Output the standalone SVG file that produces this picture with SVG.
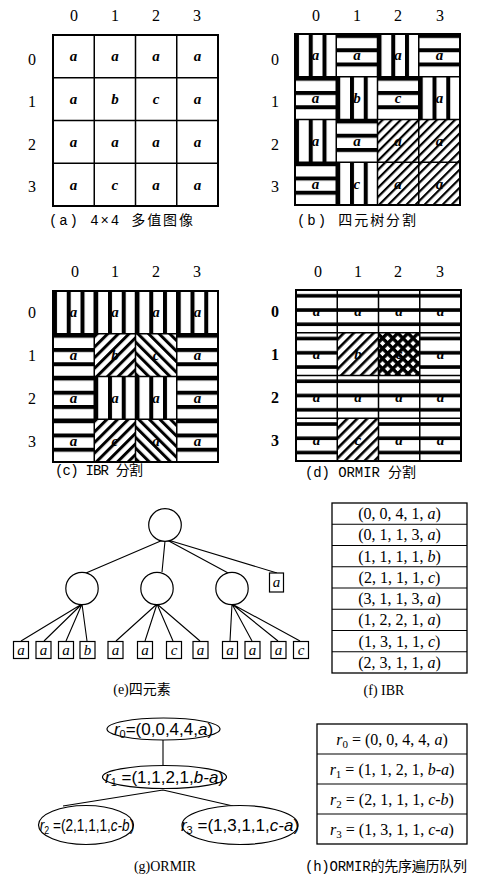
<svg xmlns="http://www.w3.org/2000/svg" width="486" height="875" viewBox="0 0 486 875">
<style>
.lbl{font-family:"Liberation Serif",serif;font-size:16px;fill:#000;text-anchor:middle}
.lblb{font-family:"Liberation Serif",serif;font-size:16px;font-weight:bold;fill:#000;text-anchor:middle}
.let{font-family:"Liberation Serif",serif;font-size:15px;font-style:italic;font-weight:bold;fill:#000;text-anchor:middle}
.cap{font-family:"Liberation Mono","Noto Sans CJK SC",monospace;font-size:14px;fill:#000}
.capS{font-family:"Liberation Serif","Noto Sans CJK SC",serif;font-size:14px;fill:#000;text-anchor:middle}
.grid{fill:none;stroke:#000;stroke-width:1.5}
.frame{fill:none;stroke:#000;stroke-width:2}
.node{fill:#fff;stroke:#000;stroke-width:1.2}
.edge{fill:none;stroke:#000;stroke-width:1.1}
.leaf{font-family:"Liberation Serif",serif;font-size:15px;font-style:italic;fill:#000;text-anchor:middle}
.tbl{font-family:"Liberation Serif",serif;font-size:16px;fill:#000;text-anchor:middle}
.ell{font-family:"Liberation Sans",sans-serif;font-size:17px;fill:#000;text-anchor:middle}
.it{font-style:italic}
</style>
<defs>
<pattern id="vs" patternUnits="userSpaceOnUse" width="13.75" height="10"><rect width="13.75" height="10" fill="#fff"/><rect width="4" height="10" fill="#000"/></pattern>
<pattern id="hs" patternUnits="userSpaceOnUse" width="10" height="14.25"><rect width="10" height="14.25" fill="#fff"/><rect width="10" height="4" fill="#000"/></pattern>
<pattern id="hs2" patternUnits="userSpaceOnUse" width="10" height="14.25"><rect width="10" height="14.25" fill="#fff"/><rect y="4" width="10" height="3.6" fill="#000"/></pattern>
<pattern id="db" patternUnits="userSpaceOnUse" width="6.4" height="6.4" patternTransform="rotate(45)"><rect width="6.4" height="6.4" fill="#fff"/><rect width="2.2" height="6.4" fill="#000"/></pattern>
<pattern id="dcL" patternUnits="userSpaceOnUse" width="7.5" height="7.5" patternTransform="rotate(45)"><rect width="7.5" height="7.5" fill="#fff"/><rect width="3" height="7.5" fill="#000"/></pattern>
<pattern id="dcR" patternUnits="userSpaceOnUse" width="7.5" height="7.5" patternTransform="translate(82.5 0) rotate(-45)"><rect width="7.5" height="7.5" fill="#fff"/><rect width="3" height="7.5" fill="#000"/></pattern>
<pattern id="dd" patternUnits="userSpaceOnUse" width="7" height="7" patternTransform="rotate(45)"><rect width="7" height="7" fill="#fff"/><rect width="2.6" height="7" fill="#000"/></pattern>
<pattern id="xh" patternUnits="userSpaceOnUse" width="7.2" height="7.2" patternTransform="rotate(45)"><rect width="7.2" height="7.2" fill="#fff"/><rect width="3.4" height="7.2" fill="#000"/><rect width="7.2" height="3.4" fill="#000"/></pattern>
</defs>

<!-- (a) -->
<g id="panel-a">
<text class="lbl" x="74" y="21">0</text><text class="lbl" x="115" y="21">1</text><text class="lbl" x="156" y="21">2</text><text class="lbl" x="197" y="21">3</text>
<text class="lbl" x="32" y="65">0</text><text class="lbl" x="32" y="107">1</text><text class="lbl" x="32" y="150">2</text><text class="lbl" x="32" y="192">3</text>
<g transform="translate(53,35)">
<rect width="165" height="171" fill="#fff"/>
<path class="grid" d="M41.25,0V171M82.5,0V171M123.75,0V171M0,42.75H165M0,85.5H165M0,128.25H165"/>
<rect class="frame" width="165" height="171"/>
<g class="let">
<text x="20.6" y="26.4">a</text><text x="61.9" y="26.4">a</text><text x="103.1" y="26.4">a</text><text x="144.4" y="26.4">a</text>
<text x="20.6" y="69.1">a</text><text x="61.9" y="69.1">b</text><text x="103.1" y="69.1">c</text><text x="144.4" y="69.1">a</text>
<text x="20.6" y="111.9">a</text><text x="61.9" y="111.9">a</text><text x="103.1" y="111.9">a</text><text x="144.4" y="111.9">a</text>
<text x="20.6" y="154.6">a</text><text x="61.9" y="154.6">c</text><text x="103.1" y="154.6">a</text><text x="144.4" y="154.6">a</text>
</g>
</g>
<text class="cap" x="49" y="225" textLength="144">(a) 4×4 多值图像</text>
</g>

<!-- (b) -->
<g id="panel-b">
<text class="lbl" x="316" y="21">0</text><text class="lbl" x="357" y="21">1</text><text class="lbl" x="398" y="21">2</text><text class="lbl" x="440" y="21">3</text>
<text class="lbl" x="275" y="65">0</text><text class="lbl" x="275" y="107">1</text><text class="lbl" x="275" y="150">2</text><text class="lbl" x="275" y="192">3</text>
<g transform="translate(295,34)">
<rect x="0" y="0" width="41.25" height="42.75" fill="url(#vs)"/>
<rect x="41.25" y="0" width="41.25" height="42.75" fill="url(#hs)"/>
<rect x="82.5" y="0" width="41.25" height="42.75" fill="url(#vs)"/>
<rect x="123.75" y="0" width="41.25" height="42.75" fill="url(#hs)"/>
<rect x="0" y="42.75" width="41.25" height="42.75" fill="url(#hs)"/>
<rect x="41.25" y="42.75" width="41.25" height="42.75" fill="url(#vs)"/>
<rect x="82.5" y="42.75" width="41.25" height="42.75" fill="url(#hs)"/>
<rect x="123.75" y="42.75" width="41.25" height="42.75" fill="url(#vs)"/>
<rect x="0" y="85.5" width="41.25" height="42.75" fill="url(#vs)"/>
<rect x="41.25" y="85.5" width="41.25" height="42.75" fill="url(#hs)"/>
<rect x="0" y="128.25" width="41.25" height="42.75" fill="url(#hs)"/>
<rect x="41.25" y="128.25" width="41.25" height="42.75" fill="url(#vs)"/>
<rect x="82.5" y="85.5" width="82.5" height="85.5" fill="url(#db)"/>
<path class="grid" d="M41.25,0V171M82.5,0V171M123.75,0V171M0,42.75H165M0,85.5H165M0,128.25H165"/>
<rect class="frame" width="165" height="171"/>
<g class="let">
<text x="20.6" y="26.4">a</text><text x="61.9" y="26.4">a</text><text x="103.1" y="26.4">a</text><text x="144.4" y="26.4">a</text>
<text x="20.6" y="69.1">a</text><text x="61.9" y="69.1">b</text><text x="103.1" y="69.1">c</text><text x="144.4" y="69.1">a</text>
<text x="20.6" y="111.9">a</text><text x="61.9" y="111.9">a</text><text x="103.1" y="111.9">a</text><text x="144.4" y="111.9">a</text>
<text x="20.6" y="154.6">a</text><text x="61.9" y="154.6">c</text><text x="103.1" y="154.6">a</text><text x="144.4" y="154.6">a</text>
</g>
</g>
<text class="cap" x="297" y="225" textLength="119">(b) 四元树分割</text>
</g>

<!-- (c) -->
<g id="panel-c">
<text class="lbl" x="75" y="277">0</text><text class="lbl" x="115" y="277">1</text><text class="lbl" x="156" y="277">2</text><text class="lbl" x="197" y="277">3</text>
<text class="lbl" x="32" y="318">0</text><text class="lbl" x="32" y="361">1</text><text class="lbl" x="32" y="404">2</text><text class="lbl" x="32" y="447">3</text>
<g transform="translate(53,291)">
<rect x="0" y="0" width="165" height="42.75" fill="url(#vs)"/>
<rect x="0" y="42.75" width="41.25" height="128.25" fill="url(#hs)"/>
<rect x="123.75" y="42.75" width="41.25" height="128.25" fill="url(#hs)"/>
<rect x="41.25" y="42.75" width="41.25" height="42.75" fill="url(#dcL)"/>
<rect x="82.5" y="42.75" width="41.25" height="42.75" fill="url(#dcR)"/>
<rect x="41.25" y="85.5" width="82.5" height="42.75" fill="url(#vs)"/>
<rect x="41.25" y="128.25" width="41.25" height="42.75" fill="url(#dcL)"/>
<rect x="82.5" y="128.25" width="41.25" height="42.75" fill="url(#dcR)"/>
<path class="grid" d="M41.25,0V171M82.5,0V171M123.75,0V171M0,42.75H165M0,85.5H165M0,128.25H165"/>
<rect class="frame" width="165" height="171"/>
<g class="let">
<text x="20.6" y="26.4">a</text><text x="61.9" y="26.4">a</text><text x="103.1" y="26.4">a</text><text x="144.4" y="26.4">a</text>
<text x="20.6" y="69.1">a</text><text x="61.9" y="69.1">b</text><text x="103.1" y="69.1">c</text><text x="144.4" y="69.1">a</text>
<text x="20.6" y="111.9">a</text><text x="61.9" y="111.9">a</text><text x="103.1" y="111.9">a</text><text x="144.4" y="111.9">a</text>
<text x="20.6" y="154.6">a</text><text x="61.9" y="154.6">c</text><text x="103.1" y="154.6">a</text><text x="144.4" y="154.6">a</text>
</g>
</g>
<text class="cap" x="55" y="475" textLength="88">(c) IBR 分割</text>
</g>

<!-- (d) -->
<g id="panel-d">
<text class="lbl" x="318" y="277">0</text><text class="lbl" x="358" y="277">1</text><text class="lbl" x="398" y="277">2</text><text class="lbl" x="440" y="277">3</text>
<text class="lblb" x="275" y="317">0</text><text class="lblb" x="275" y="360">1</text><text class="lblb" x="275" y="403">2</text><text class="lblb" x="275" y="446">3</text>
<g transform="translate(296,290)">
<rect x="0" y="0" width="165" height="171" fill="url(#hs2)"/>
<rect x="41.25" y="42.75" width="41.25" height="42.75" fill="url(#dd)"/>
<rect x="82.5" y="42.75" width="41.25" height="42.75" fill="url(#xh)"/>
<rect x="41.25" y="128.25" width="41.25" height="42.75" fill="url(#dd)"/>
<path class="grid" d="M41.25,0V171M82.5,0V171M123.75,0V171M0,42.75H165M0,85.5H165M0,128.25H165"/>
<rect class="frame" width="165" height="171"/>
<g class="let">
<text x="20.6" y="26.4">a</text><text x="61.9" y="26.4">a</text><text x="103.1" y="26.4">a</text><text x="144.4" y="26.4">a</text>
<text x="20.6" y="69.1">a</text><text x="61.9" y="69.1">b</text><text x="103.1" y="69.1">c</text><text x="144.4" y="69.1">a</text>
<text x="20.6" y="111.9">a</text><text x="61.9" y="111.9">a</text><text x="103.1" y="111.9">a</text><text x="144.4" y="111.9">a</text>
<text x="20.6" y="154.6">a</text><text x="61.9" y="154.6">c</text><text x="103.1" y="154.6">a</text><text x="144.4" y="154.6">a</text>
</g>
</g>
<text class="cap" x="305" y="477" textLength="111">(d) ORMIR 分割</text>
</g>

<!-- (e) quadtree -->
<g id="panel-e">
<g id="tree-edges">
<path class="edge" d="M163,540L86,573M165,541L162,572M167,540L230,574M168,540L277,573"/>
<path class="edge" d="M82,604L21,641M82,604L44,641M82,604L66,641M82,604L87,641"/>
<path class="edge" d="M157,604L116,641M157,604L145,641M157,604L173,641M157,604L200,641"/>
<path class="edge" d="M232,604L230,641M232,604L252,641M232,604L278,641M232,604L300,641"/>
</g>
<g id="e-root"><circle class="node" cx="165" cy="525" r="16.3"/></g>
<g id="e-n1"><circle class="node" cx="82" cy="588.5" r="16.2"/></g>
<g id="e-n2"><circle class="node" cx="157" cy="588.5" r="16.2"/></g>
<g id="e-n3"><circle class="node" cx="232" cy="588.5" r="16.2"/></g>
<g id="e-la"><rect class="node" x="269.5" y="573" width="14" height="19"/><text class="leaf" x="276.5" y="587">a</text></g>
<g id="e-leaves">
<rect class="node" x="13.5" y="641.5" width="15" height="17"/><text class="leaf" x="21" y="655">a</text>
<rect class="node" x="36" y="641.5" width="15" height="17"/><text class="leaf" x="43.5" y="655">a</text>
<rect class="node" x="58.5" y="641.5" width="15" height="17"/><text class="leaf" x="66" y="655">a</text>
<rect class="node" x="80" y="641.5" width="15" height="17"/><text class="leaf" x="87.5" y="655">b</text>
<rect class="node" x="108" y="641.5" width="15" height="17"/><text class="leaf" x="115.5" y="655">a</text>
<rect class="node" x="137.5" y="641.5" width="15" height="17"/><text class="leaf" x="145" y="655">a</text>
<rect class="node" x="166.5" y="641.5" width="15" height="17"/><text class="leaf" x="174" y="655">c</text>
<rect class="node" x="193" y="641.5" width="15" height="17"/><text class="leaf" x="200.5" y="655">a</text>
<rect class="node" x="222.5" y="641.5" width="15" height="17"/><text class="leaf" x="230" y="655">a</text>
<rect class="node" x="245" y="641.5" width="15" height="17"/><text class="leaf" x="252.5" y="655">a</text>
<rect class="node" x="271" y="641.5" width="15" height="17"/><text class="leaf" x="278.5" y="655">a</text>
<rect class="node" x="293.5" y="641.5" width="15" height="17"/><text class="leaf" x="301" y="655">c</text>
</g>
<text class="capS" x="142" y="694">(e)四元素</text>
</g>

<!-- (f) IBR table -->
<g id="panel-f">
<rect x="332" y="503" width="135" height="170" fill="#fff" stroke="#000" stroke-width="1.3"/>
<path class="edge" d="M332,524.25H467M332,545.5H467M332,566.75H467M332,588H467M332,609.25H467M332,630.5H467M332,651.75H467"/>
<g class="tbl">
<text x="399.5" y="519">(0, 0, 4, 1, <tspan class="it">a</tspan>)</text>
<text x="399.5" y="540">(0, 1, 1, 3, <tspan class="it">a</tspan>)</text>
<text x="399.5" y="561.5">(1, 1, 1, 1, <tspan class="it">b</tspan>)</text>
<text x="399.5" y="582.5">(2, 1, 1, 1, <tspan class="it">c</tspan>)</text>
<text x="399.5" y="604">(3, 1, 1, 3, <tspan class="it">a</tspan>)</text>
<text x="399.5" y="625">(1, 2, 2, 1, <tspan class="it">a</tspan>)</text>
<text x="399.5" y="646.5">(1, 3, 1, 1, <tspan class="it">c</tspan>)</text>
<text x="399.5" y="667.5">(2, 3, 1, 1, <tspan class="it">a</tspan>)</text>
</g>
<text class="capS" x="384" y="695">(f) IBR</text>
</g>

<!-- (g) ORMIR tree -->
<g id="panel-g">
<g id="g-edges">
<path class="edge" d="M163,740V765M163,790L63,806M163,790L233,806"/>
</g>
<g id="g-r0"><ellipse class="node" cx="163.5" cy="729" rx="56.5" ry="11"/>
<text class="ell" x="163.5" y="735"><tspan class="it">r</tspan><tspan font-size="11" dy="3">0</tspan><tspan dy="-3">=(0,0,4,4,</tspan><tspan class="it">a</tspan>)</text></g>
<g id="g-r1"><ellipse class="node" cx="164.5" cy="777" rx="62" ry="11.5"/>
<text class="ell" x="164.5" y="783"><tspan class="it">r</tspan><tspan font-size="11" dy="3">1</tspan><tspan dy="-3"> =(1,1,2,1,</tspan><tspan class="it">b-a</tspan>)</text></g>
<g id="g-r2"><ellipse class="node" cx="86" cy="825" rx="47.5" ry="19.5"/>
<text class="ell" transform="translate(87,831) scale(0.8,1)" x="0" y="0"><tspan class="it">r</tspan><tspan font-size="11" dy="3">2</tspan><tspan dy="-3"> =(2,1,1,1,</tspan><tspan class="it">c-b</tspan>)</text></g>
<g id="g-r3"><ellipse class="node" cx="240" cy="825" rx="58" ry="19.5"/>
<text class="ell" x="240" y="831"><tspan class="it">r</tspan><tspan font-size="11" dy="3">3</tspan><tspan dy="-3"> =(1,3,1,1,</tspan><tspan class="it">c-a</tspan>)</text></g>
<text class="capS" x="165" y="871" font-size="15">(g)ORMIR</text>
</g>

<!-- (h) table -->
<g id="panel-h">
<rect x="317" y="724" width="150" height="120" fill="#fff" stroke="#000" stroke-width="1.3"/>
<path class="edge" d="M317,754H467M317,784H467M317,814H467"/>
<g class="tbl">
<text x="392" y="745"><tspan class="it">r</tspan><tspan font-size="11" dy="3">0</tspan><tspan dy="-3"> = (0, 0, 4, 4, </tspan><tspan class="it">a</tspan>)</text>
<text x="392" y="775"><tspan class="it">r</tspan><tspan font-size="11" dy="3">1</tspan><tspan dy="-3"> = (1, 1, 2, 1, </tspan><tspan class="it">b-a</tspan>)</text>
<text x="392" y="805"><tspan class="it">r</tspan><tspan font-size="11" dy="3">2</tspan><tspan dy="-3"> = (2, 1, 1, 1, </tspan><tspan class="it">c-b</tspan>)</text>
<text x="392" y="835"><tspan class="it">r</tspan><tspan font-size="11" dy="3">3</tspan><tspan dy="-3"> = (1, 3, 1, 1, </tspan><tspan class="it">c-a</tspan>)</text>
</g>
<text class="cap" x="305" y="871" textLength="162">(h)ORMIR的先序遍历队列</text>
</g>
</svg>
